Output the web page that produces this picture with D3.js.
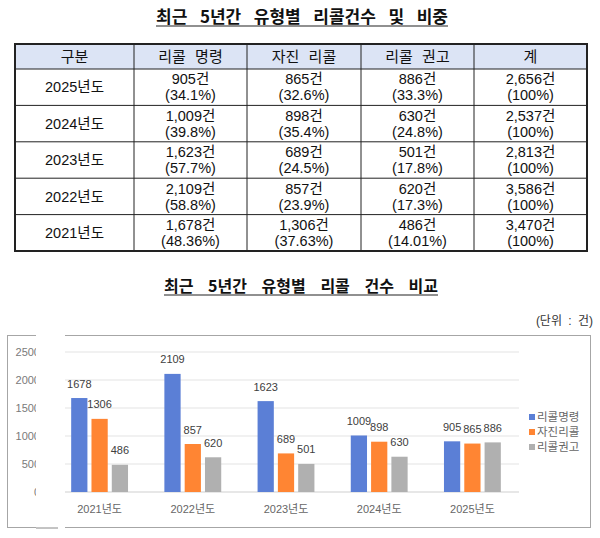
<!DOCTYPE html>
<html>
<head>
<meta charset="utf-8">
<script src="https://cdn.jsdelivr.net/npm/d3@7"></script>
<style>
  body { margin: 0; background: #fff; }
  svg { display: block; font-family: "Liberation Sans", "Noto Sans CJK KR", sans-serif; }
</style>
</head>
<body>
<div id="chart"></div>
<script>
// table data (rows top to bottom)
var years = ["2025년도", "2024년도", "2023년도", "2022년도", "2021년도"];
var headers = ["구분", "리콜 명령", "자진 리콜", "리콜 권고", "계"];
var recallOrder = [905, 1009, 1623, 2109, 1678];
var voluntary = [865, 898, 689, 857, 1306];
var recommend = [886, 630, 501, 620, 486];
var totals = [2656, 2537, 2813, 3586, 3470];
var orderPct = ["34.1%", "39.8%", "57.7%", "58.8%", "48.36%"];
var volPct = ["32.6%", "35.4%", "24.5%", "23.9%", "37.63%"];
var recPct = ["33.3%", "24.8%", "17.8%", "17.3%", "14.01%"];
var totPct = ["100%", "100%", "100%", "100%", "100%"];

var seriesNames = ["리콜명령", "자진리콜", "리콜권고"];
var seriesColors = ["#5b7fd6", "#ff8533", "#b0b0b0"];
var yTicks = [0, 500, 1000, 1500, 2000, 2500];

var W = 600, H = 538;
var svg = d3.select("#chart").append("svg")
  .attr("width", W)
  .attr("height", H);

var fmt = d3.format(",");

// spread word gaps so a title fills a given width
function fitTitle(sel, target) {
  var n = sel.text().split(" ").length - 1;
  var w = sel.node().getComputedTextLength();
  sel.attr("word-spacing", (target - w) / n);
}

function underlinedTitle(text, cx, cy, target, size) {
  var t = svg.append("text")
    .attr("x", cx)
    .attr("y", cy)
    .attr("text-anchor", "middle")
    .attr("dy", "0.36em")
    .style("font-family", "'Noto Sans CJK KR', sans-serif")
    .style("font-weight", "bold")
    .style("font-size", size + "px")
    .attr("fill", "#111")
    .text(text);
  fitTitle(t, target);
  svg.append("line")
    .attr("x1", cx - target / 2).attr("x2", cx + target / 2)
    .attr("y1", cy + 9).attr("y2", cy + 9)
    .attr("stroke", "#222").attr("stroke-width", 1.2);
}

// ---------- table ----------
underlinedTitle("최근 5년간 유형별 리콜건수 및 비중", 302, 17, 292, 17);

var colEdges = [15, 134, 247, 361, 474, 587];
var tableTop = 44, headBottom = 69, tableBottom = 251;

var rowScale = d3.scaleBand()
  .domain(years)
  .range([headBottom, tableBottom]);

var tbl = svg.append("g");

tbl.append("rect")
  .attr("x", colEdges[0]).attr("y", tableTop)
  .attr("width", colEdges[5] - colEdges[0])
  .attr("height", headBottom - tableTop)
  .attr("fill", "#dce4f5");

tbl.selectAll(".head")
  .data(headers)
  .enter().append("text")
  .attr("x", function(d, i) { return (colEdges[i] + colEdges[i + 1]) / 2; })
  .attr("y", (tableTop + headBottom) / 2)
  .attr("dy", "0.36em")
  .attr("text-anchor", "middle")
  .attr("word-spacing", 5)
  .style("font-size", "15px")
  .attr("fill", "#111")
  .text(function(d) { return d; });

var cellCols = [
  { v: recallOrder, p: orderPct },
  { v: voluntary, p: volPct },
  { v: recommend, p: recPct },
  { v: totals, p: totPct }
];

var rows = tbl.selectAll(".row")
  .data(years)
  .enter().append("g")
  .attr("transform", function(d) { return "translate(0," + (rowScale(d) + rowScale.bandwidth() / 2) + ")"; });

rows.append("text")
  .attr("x", (colEdges[0] + colEdges[1]) / 2)
  .attr("dy", "0.36em")
  .attr("text-anchor", "middle")
  .style("font-size", "14.5px")
  .attr("fill", "#111")
  .text(function(d) { return d; });

rows.each(function(d, r) {
  var g = d3.select(this);
  cellCols.forEach(function(c, j) {
    var cx = (colEdges[j + 1] + colEdges[j + 2]) / 2;
    g.append("text")
      .attr("x", cx).attr("y", -8).attr("dy", "0.36em")
      .attr("text-anchor", "middle")
      .style("font-size", "14.5px")
      .attr("fill", "#111")
      .text(fmt(c.v[r]) + "건");
    g.append("text")
      .attr("x", cx).attr("y", 8).attr("dy", "0.36em")
      .attr("text-anchor", "middle")
      .style("font-size", "14.5px")
      .attr("fill", "#111")
      .text("(" + c.p[r] + ")");
  });
});

// grid lines of the table
var hLines = [headBottom].concat(years.slice(1).map(function(d) { return rowScale(d); }));
tbl.selectAll(".hl")
  .data(hLines)
  .enter().append("line")
  .attr("x1", colEdges[0]).attr("x2", colEdges[5])
  .attr("y1", function(d) { return d; }).attr("y2", function(d) { return d; })
  .attr("stroke", "#222").attr("stroke-width", 1);

tbl.selectAll(".vl")
  .data(colEdges.slice(1, 5))
  .enter().append("line")
  .attr("x1", function(d) { return d; }).attr("x2", function(d) { return d; })
  .attr("y1", tableTop).attr("y2", tableBottom)
  .attr("stroke", "#222").attr("stroke-width", 1);

tbl.append("rect")
  .attr("x", colEdges[0]).attr("y", tableTop)
  .attr("width", colEdges[5] - colEdges[0])
  .attr("height", tableBottom - tableTop)
  .attr("fill", "none")
  .attr("stroke", "#222").attr("stroke-width", 2);

// ---------- bar chart ----------
underlinedTitle("최근 5년간 유형별 리콜 건수 비교", 301, 286, 274, 16);

svg.append("text")
  .attr("x", 593).attr("y", 321).attr("dy", "0.36em")
  .attr("text-anchor", "end")
  .attr("word-spacing", 3)
  .style("font-size", "12px")
  .attr("fill", "#333")
  .text("(단위 : 건)");

svg.append("rect")
  .attr("x", 7.5).attr("y", 335.5)
  .attr("width", 583).attr("height", 192)
  .attr("fill", "none")
  .attr("stroke", "#a6a6a6");

var chartYears = years.slice().reverse();
var seriesData = [recallOrder, voluntary, recommend].map(function(arr) { return arr.slice().reverse(); });

var x0 = d3.scaleBand()
  .domain(chartYears)
  .range([53, 519])
  .paddingInner(0.39)
  .paddingOuter(0.195);

var x1 = d3.scaleBand()
  .domain(seriesNames)
  .range([0, x0.bandwidth()])
  .paddingInner(0.2);

var y = d3.scaleLinear()
  .domain([0, 2500])
  .range([492, 352]);

var plot = svg.append("g");

plot.selectAll(".grid")
  .data(yTicks)
  .enter().append("line")
  .attr("x1", 53).attr("x2", 519)
  .attr("y1", function(d) { return y(d); }).attr("y2", function(d) { return y(d); })
  .attr("stroke", function(d) { return d === 0 ? "#cfcfcf" : "#e3e3e3"; })
  .attr("stroke-width", 1);

var yAxis = svg.append("g")
  .attr("transform", "translate(40,0)")
  .call(d3.axisLeft(y).tickValues(yTicks).tickFormat(d3.format("d")).tickSize(0).tickPadding(0));
yAxis.select(".domain").remove();
yAxis.selectAll("text")
  .style("font-family", "'Liberation Sans', sans-serif")
  .style("font-size", "11px")
  .attr("fill", "#7a7a7a");

var groups = plot.selectAll(".grp")
  .data(chartYears)
  .enter().append("g")
  .attr("transform", function(d) { return "translate(" + x0(d) + ",0)"; });

groups.selectAll("rect")
  .data(function(d, i) { return seriesNames.map(function(s, k) { return { s: s, k: k, v: seriesData[k][i] }; }); })
  .enter().append("rect")
  .attr("x", function(d) { return x1(d.s); })
  .attr("width", x1.bandwidth())
  .attr("y", function(d) { return y(d.v); })
  .attr("height", function(d) { return y(0) - y(d.v); })
  .attr("fill", function(d) { return seriesColors[d.k]; });

groups.selectAll(".val")
  .data(function(d, i) { return seriesNames.map(function(s, k) { return { s: s, k: k, v: seriesData[k][i] }; }); })
  .enter().append("text")
  .attr("x", function(d) { return x1(d.s) + x1.bandwidth() / 2; })
  .attr("y", function(d) { return y(d.v) - 10.5; })
  .attr("text-anchor", "middle")
  .style("font-size", "11px")
  .attr("fill", "#404040")
  .text(function(d) { return d.v; });

var xAxis = svg.append("g")
  .attr("transform", "translate(0,505)")
  .call(d3.axisBottom(x0).tickSize(0).tickPadding(0));
xAxis.select(".domain").remove();
xAxis.selectAll("text")
  .style("font-family", "'Liberation Sans', 'Noto Sans CJK KR', sans-serif")
  .style("font-size", "11px")
  .attr("fill", "#666");

// pasted-image patch that hides part of the tick labels
svg.append("rect")
  .attr("x", 36).attr("y", 333)
  .attr("width", 29).attr("height", 196)
  .attr("fill", "#fff");
svg.append("line")
  .attr("x1", 36).attr("x2", 58)
  .attr("y1", 528).attr("y2", 528)
  .attr("stroke", "#888");

// legend
var legend = svg.append("g")
  .selectAll("g")
  .data(seriesNames)
  .enter().append("g")
  .attr("transform", function(d, i) { return "translate(529," + (417 + i * 15) + ")"; });

legend.append("rect")
  .attr("x", 0).attr("y", -3)
  .attr("width", 6).attr("height", 6)
  .attr("fill", function(d, i) { return seriesColors[i]; });

legend.append("text")
  .attr("x", 8).attr("dy", "0.36em")
  .style("font-size", "11.5px")
  .attr("fill", "#666")
  .text(function(d) { return d; });
</script>
</body>
</html>
